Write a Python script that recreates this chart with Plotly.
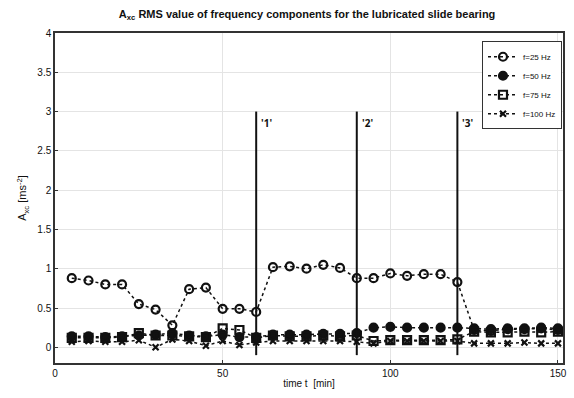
import plotly.graph_objects as go

time_min = [5, 10, 15, 20, 25, 30, 35, 40, 45, 50, 55, 60, 65, 70, 75, 80, 85, 90, 95, 100,
            105, 110, 115, 120, 125, 130, 135, 140, 145, 150]
f25 = [0.88, 0.85, 0.80, 0.80, 0.55, 0.48, 0.28, 0.74, 0.76, 0.49, 0.49, 0.45, 1.02, 1.03, 1.00,
       1.05, 1.01, 0.88, 0.88, 0.94, 0.91, 0.93, 0.93, 0.83, 0.22, 0.21, 0.23, 0.23, 0.24, 0.22]
f50 = [0.14, 0.14, 0.13, 0.14, 0.15, 0.16, 0.18, 0.15, 0.14, 0.16, 0.13, 0.13, 0.16, 0.16, 0.16,
       0.17, 0.17, 0.18, 0.25, 0.26, 0.25, 0.25, 0.25, 0.25, 0.24, 0.23, 0.24, 0.24, 0.25, 0.24]
f75 = [0.12, 0.12, 0.12, 0.13, 0.18, 0.15, 0.15, 0.14, 0.13, 0.24, 0.22, 0.12, 0.15, 0.14, 0.14,
       0.15, 0.14, 0.15, 0.08, 0.09, 0.09, 0.09, 0.09, 0.10, 0.20, 0.19, 0.19, 0.20, 0.19, 0.20]
f100 = [0.07, 0.08, 0.07, 0.07, 0.09, 0.00, 0.10, 0.08, 0.02, 0.08, 0.03, 0.06, 0.08, 0.08, 0.08,
        0.08, 0.08, 0.07, 0.05, 0.08, 0.08, 0.08, 0.08, 0.08, 0.05, 0.05, 0.05, 0.06, 0.05, 0.05]
series_names = ["f=25 Hz", "f=50 Hz", "f=75 Hz", "f=100 Hz"]
event_times = [60, 90, 120]
event_labels = ["'1'", "'2'", "'3'"]
event_span = [-0.1, 3.0]

fig = go.Figure()
markers = ["circle-open", "circle", "square-open", "x-thin-open"]
for name, vals, sym in zip(series_names, [f25, f50, f75, f100], markers):
    fig.add_trace(go.Scatter(
        x=time_min, y=vals, name=name, mode="lines+markers",
        line=dict(color="#111111", width=1.5, dash="dot"),
        marker=dict(symbol=sym, size=8 if sym != "x-thin-open" else 6, color="#111111",
                    line=dict(width=2.2, color="#111111")),
    ))

for t, lab in zip(event_times, event_labels):
    fig.add_trace(go.Scatter(x=[t, t], y=event_span, mode="lines",
                             line=dict(color="#111111", width=2), showlegend=False,
                             hoverinfo="skip"))
    fig.add_annotation(x=t, y=2.86, text="<b>" + lab + "</b>", showarrow=False,
                       xanchor="left", xshift=3, font=dict(size=10, color="#111"))

axis_common = dict(showline=True, linecolor="#333", linewidth=1.5, mirror=True,
                   showgrid=True, gridcolor="#e4e4e4", gridwidth=1, zeroline=False,
                   ticks="inside", ticklen=3, tickcolor="#333",
                   tickfont=dict(family="Liberation Sans", size=10, color="#111"))

fig.update_layout(
    width=574, height=398,
    margin=dict(l=55, r=7, t=33, b=35),
    paper_bgcolor="white", plot_bgcolor="white",
    title=dict(text="<b>A<sub>xc</sub> RMS value of frequency components for the lubricated slide bearing</b>",
               x=0.535, xanchor="center", y=0.975, yanchor="top",
               font=dict(family="Liberation Sans", size=11, color="#111")),
    xaxis=dict(range=[0, 151.5], tickvals=[0, 50, 100, 150],
               title=dict(text="time t  [min]", standoff=2,
                          font=dict(family="Liberation Sans", size=10, color="#111")),
               **axis_common),
    yaxis=dict(range=[-0.2, 4], tickvals=[0, 0.5, 1, 1.5, 2, 2.5, 3, 3.5, 4],
               ticktext=["0", "0.5", "1", "1.5", "2", "2.5", "3", "3.5", "4"],
               title=dict(text="A<sub>xc</sub> [ms<sup>-2</sup>]", standoff=8,
                          font=dict(family="Liberation Sans", size=11, color="#111")),
               **axis_common),
    legend=dict(x=0.998, y=0.975, xanchor="right", yanchor="top",
                bgcolor="white", bordercolor="#333", borderwidth=1,
                font=dict(family="Liberation Sans", size=8, color="#111"),
                tracegroupgap=0, itemwidth=30),
    showlegend=True,
)

fig.write_html("out.html")
